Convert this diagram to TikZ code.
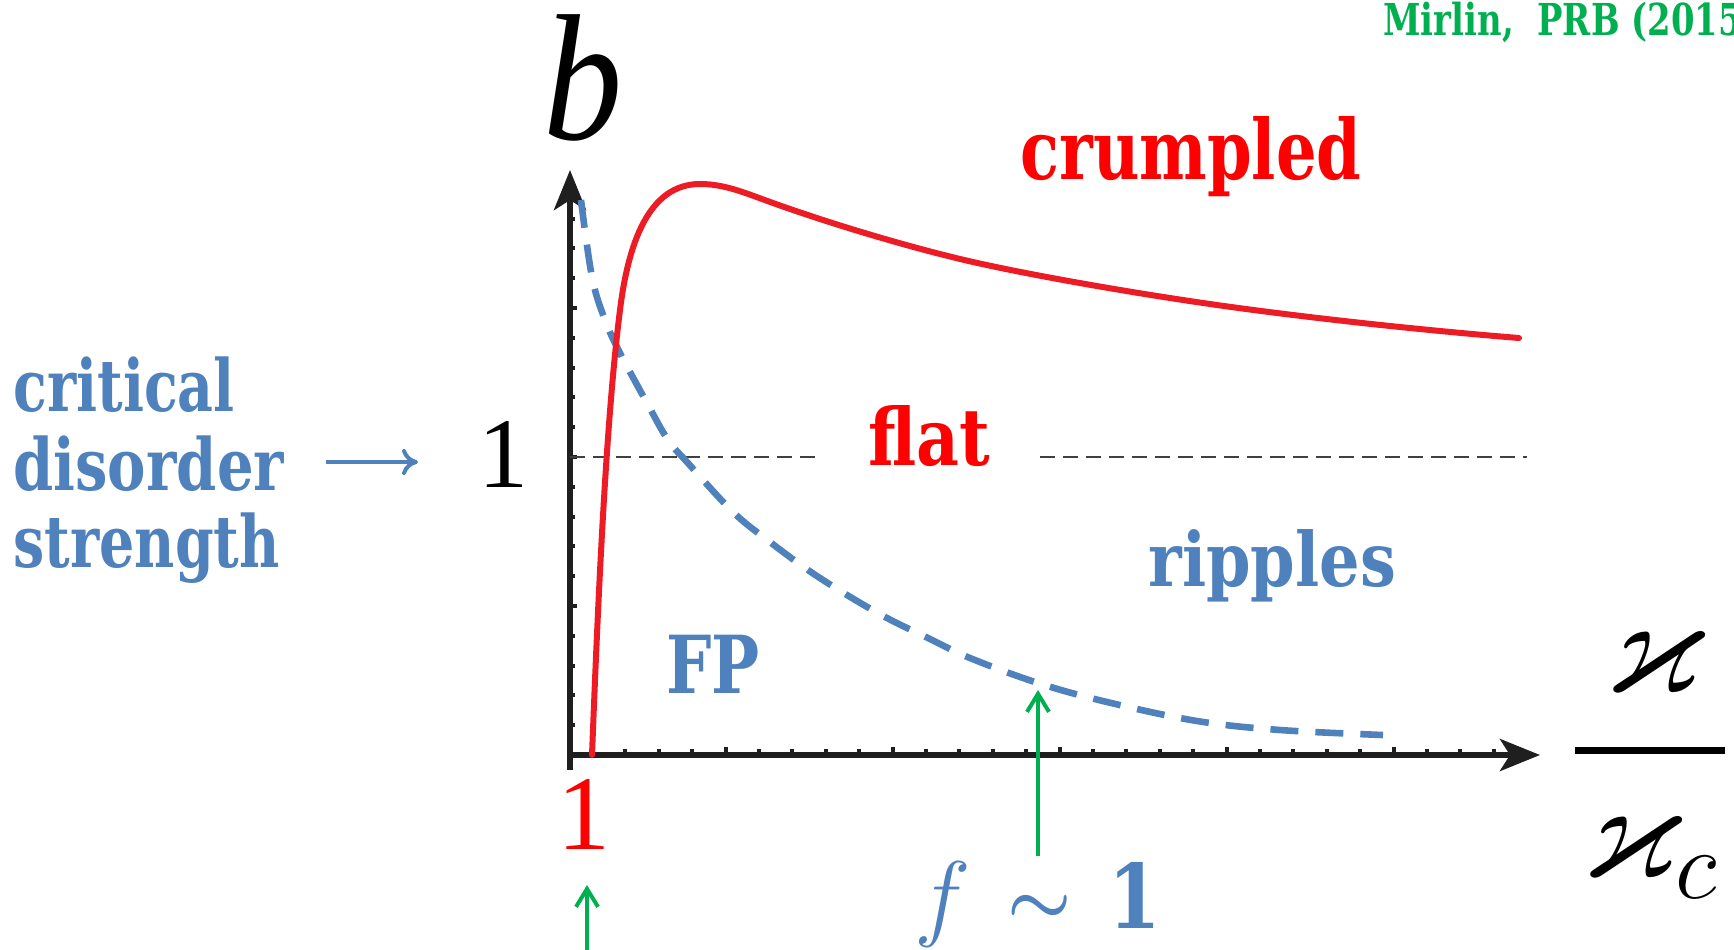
\RequirePackage{fix-cm}
\documentclass[tikz,border=0pt]{standalone}
\usepackage{amsmath,amssymb}
\usepackage{fontspec}
\usetikzlibrary{arrows.meta}
\newfontfamily\lblA[FakeStretch=0.77]{DejaVu Serif}
\newfontfamily\lblB[FakeStretch=0.80]{DejaVu Serif}
\newfontfamily\lblC[FakeStretch=0.84]{DejaVu Serif}
\newfontfamily\lblD[FakeStretch=0.85]{DejaVu Serif}
\newfontfamily\timesfont{Liberation Serif}
\newfontfamily\bfontx[FakeStretch=0.88]{Liberation Serif}
\definecolor{lblue}{HTML}{4F81BD}
\definecolor{lred}{HTML}{FF0000}
\definecolor{cred}{HTML}{ED1C24}
\definecolor{lgreen}{HTML}{00B050}
\tikzset{
  axisline/.style={line width=3pt, draw=black!88, -{Stealth[length=20pt,width=16pt,inset=5pt]}},
  tickmark/.style={line width=2pt, draw=black!88},
  redcurve/.style={line width=3pt, draw=cred, line cap=round},
  bluedash/.style={line width=3.3pt, draw=lblue, dash pattern=on 14pt off 8.5pt},
  refline/.style={line width=1.2pt, draw=black!75, dash pattern=on 7.5pt off 4pt},
  greenarrow/.style={line width=2pt, draw=lgreen, -{Straight Barb[length=9pt,width=11pt]}},
  lbl/.style={inner sep=0pt, anchor=base west},
}
\begin{document}
\begin{tikzpicture}[x=0.5pt,y=-0.5pt]
\useasboundingbox (0,0) rectangle (1734,949);
\clip (0,0) rectangle (1734,949);
% axes
\coordinate (orig) at (570,755);
\coordinate (ybot) at (570,770);
\coordinate (ytop) at (570,170);
\coordinate (xend) at (1540,755);
\foreach \k in {1,...,18}{
  \pgfmathsetmacro{\tl}{mod(\k,5)==0 ? 7 : 5}
  \draw[tickmark] (570,{755-29.8*\k}) -- ++(\tl,0);
}
\foreach \k in {1,...,27}{
  \pgfmathsetmacro{\tl}{mod(\k,5)==4 ? 8 : 6}
  \draw[tickmark] ({592+33.4*\k},755) -- ++(0,-\tl);
}
\draw[axisline] (ybot) -- (ytop);
\draw[axisline] (orig) -- (xend);
% reference line b=1
\coordinate (r1a) at (570,457);
\coordinate (r1b) at (817,457);
\coordinate (r2a) at (1040,457);
\coordinate (r2b) at (1527,457);
\draw[refline] (r1a) -- (r1b);
\draw[refline] (r2a) -- (r2b);
% blue dashed curve
\draw[bluedash] plot[smooth, tension=0.6] coordinates {(581,200) (592,277) (605,320) (620,353) (647,403) (668,440) (687,462) (733,512) (770,542) (808,570) (847,595) (887,618) (928,638) (970,658) (1038,683) (1107,702) (1197,721) (1280,730) (1383,735)};
% red curve
\draw[redcurve] (592,755) .. controls (598,600) and (606,420) .. (620,310)
  .. controls (628,245) and (648,184) .. (700,184)
  .. controls (725,184) and (745,193) .. (773,203)
  .. controls (840,227) and (920,250) .. (973,262)
  .. controls (1026,274) and (1120,291) .. (1210,304)
  .. controls (1300,317) and (1420,330) .. (1519,338);
% labels
\node[lbl, text=black] (b) at (543,139) {\fontsize{90pt}{90pt}\selectfont\bfontx\itshape b};
\node[lbl, text=black] (one) at (478,487) {\fontsize{50pt}{50pt}\selectfont\timesfont 1};
\node[lbl, text=lred] (onex) at (557,849) {\fontsize{53pt}{53pt}\selectfont\timesfont 1};
\node[lbl, text=lred] (crumpled) at (1020,179) {\fontsize{41.5pt}{41.5pt}\selectfont\lblA\bfseries crumpled};
\node[lbl, text=lred] (flat) at (868,465) {\fontsize{39.5pt}{39.5pt}\selectfont\lblC\bfseries flat};
\node[lbl, text=lblue] (ripples) at (1148,586) {\fontsize{37.5pt}{37.5pt}\selectfont\lblD\bfseries ripples};
\node[lbl, text=lblue] (fp) at (666,693) {\fontsize{40pt}{40pt}\selectfont\lblB\bfseries FP};
\node[lbl, text=lblue] (crit) at (13,411) {\fontsize{36pt}{36pt}\selectfont\lblA\bfseries critical};
\node[lbl, text=lblue] (dis) at (13,490) {\fontsize{36pt}{36pt}\selectfont\lblB\bfseries disorder};
\node[lbl, text=lblue] (str) at (13,567) {\fontsize{36pt}{36pt}\selectfont\lblA\bfseries strength};
\node[lbl, text=lgreen] (ref) at (1383,35) {\fontsize{22pt}{22pt}\selectfont\lblA\bfseries Mirlin,\ \ PRB (2015)};
\node[lbl, text=lblue] (ff) at (914,928) {\fontsize{48pt}{48pt}\selectfont $f$};
\node[anchor=base, inner sep=0pt, text=lblue] (sim) at (1040,923) {\fontsize{36pt}{36pt}\selectfont $\boldsymbol{\sim}$};
\node[lbl, text=lblue] (fone) at (1108,928) {\fontsize{44.5pt}{44.5pt}\selectfont\lblD\bfseries 1};
\node[lbl] (kap) at (1605,692) {\fontsize{70pt}{70pt}\selectfont $\varkappa$};
\node[lbl] (kapc) at (1582,877) {\fontsize{70pt}{70pt}\selectfont $\varkappa_c$};
\coordinate (fb1) at (1575,750);
\coordinate (fb2) at (1725,750);
\draw[line width=3.5pt] (fb1) -- (fb2);
% arrows
\coordinate (ca1) at (326,462);
\coordinate (ca2) at (418,462);
\draw[line width=2pt, draw=lblue, -{To[length=8pt,width=13pt]}] (ca1) -- (ca2);
\coordinate (g1a) at (1038,856);
\coordinate (g1b) at (1038,690);
\draw[greenarrow] (g1a) -- (g1b);
\coordinate (g2a) at (587,960);
\coordinate (g2b) at (587,885);
\draw[greenarrow] (g2a) -- (g2b);
\end{tikzpicture}
\end{document}
